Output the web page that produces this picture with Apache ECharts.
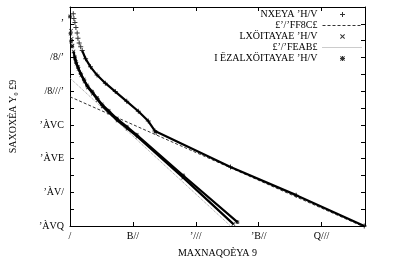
<!DOCTYPE html>
<html lang="en" style="height: 100%">
<head>
  <meta charset="utf-8">
</head>
<body style="height: 100%; margin: 0; background: #fff">
  <div id="container" style="width: 394px; height: 263px"></div>

  <script type="text/javascript" src="https://cdn.jsdelivr.net/npm/echarts@6/dist/echarts.min.js"></script>
  <script type="text/javascript">
// tick labels as printed in the picture
var xTickVals = [0, 500, 1000, 1500, 2000];
var xTickText = ['/', 'B//', 'ʼ///', 'ʼB//', 'Q///'];
var yTickVals = [0, -2, -4, -6, -8, -10, -12];
var yTickText = ['ʼ', '/8/ʼ', '/8///ʼ', 'ʼÀVC', 'ʼÀVE', 'ʼÀV/', 'ʼÀVQ'];

var legendNames = ['NXEYA ʼH/V', '£ʼ/ʼFF8C£', 'LXÖITAYAE ʼH/V', '£ʼ/ʼFEAB£', 'I ËZALXÖITAYAE ʼH/V'];
var xTitle = 'MAXNAQOÈYA 9';
var yTitle = 'SAXOXÈA Y₀ £9';

// series 1 (+)
var s1X = [26, 31, 39, 47, 57, 63, 73, 85, 97, 124, 163, 215, 281, 360, 451, 543, 622, 675, 685, 1276, 1798, 2339];
var s1Y = [4.0, 2.1, 1.2, 0.6, 0.29, 0.14, 0.074, 0.044, 0.026, 0.0085, 0.0028, 9.1e-4, 3.0e-4, 9.5e-5, 2.5e-5, 6.5e-6, 1.7e-6, 4.4e-7, 3.5e-7, 3.2e-9, 6.8e-11, 1.0e-12];
// series 2 (x)
var s2X = [8, 13, 20, 28, 40, 52, 68, 90, 116, 142, 182, 221, 260, 313, 378, 457, 536, 900, 1299];
var s2Y = [0.39, 0.13, 0.051, 0.023, 0.0089, 0.0043, 0.0021, 8.9e-4, 3.8e-4, 1.66e-4, 7.2e-5, 3.0e-5, 1.26e-5, 5.2e-6, 1.8e-6, 6.0e-7, 2.0e-7, 7.4e-10, 1.3e-12];
// series 3 (*)
var s3X = [0, 4, 9, 16, 37, 47, 63, 84, 110, 136, 176, 215, 254, 307, 372, 451, 530, 900, 1331];
var s3Y = [2.75, 0.26, 0.089, 0.045, 0.0107, 0.0054, 0.00275, 0.00115, 5.0e-4, 2.2e-4, 9.5e-5, 4.0e-5, 1.66e-5, 6.9e-6, 2.4e-6, 7.9e-7, 2.6e-7, 1.0e-9, 1.7e-12];
// fitted lines
var fit1X = [0, 2345];
var fit1Y = [4.7e-5, 8.3e-13];
var fit2X = [0, 1276];
var fit2Y = [6.0e-4, 1.0e-12];

function pts(xs, ys, from) {
  var out = [];
  for (var i = from || 0; i < xs.length; i++) out.push([xs[i], Math.log10(ys[i])]);
  return out;
}

var plusPath = 'path://M4,0H6V10H4Z M0,4H10V6H0Z';
var crossPath = 'path://M1.5,0.1L9.9,8.5L8.5,9.9L0.1,1.5Z M8.5,0.1L9.9,1.5L1.5,9.9L0.1,8.5Z';
var starPath = 'path://M4,0H6V10H4Z M0,4H10V6H0Z M1.5,0.1L9.9,8.5L8.5,9.9L0.1,1.5Z M8.5,0.1L9.9,1.5L1.5,9.9L0.1,8.5Z';

var font = 'Liberation Serif';
var myChart = echarts.init(document.getElementById('container'), null, { renderer: 'canvas' });

function axisBase(extra) {
  var a = {
    axisLine: { show: true, onZero: false, lineStyle: { color: '#000', width: 1 } },
    axisTick: { show: true, inside: true, length: 4, lineStyle: { color: '#000' } },
    splitLine: { show: false }
  };
  for (var k in extra) a[k] = extra[k];
  return a;
}

function lineOf(xs, ys, from) {
  return {
    type: 'line', data: pts(xs, ys, from), showSymbol: false, symbol: 'none',
    silent: true, lineStyle: { color: '#000', width: 2.2 }, z: 3
  };
}

var option = {
  animation: false,
  grid: { left: 68, right: 29, top: 7, bottom: 35 },
  legend: {
    orient: 'vertical', right: 31, top: 9, padding: 0, itemGap: 0, align: 'right',
    itemWidth: 40, itemHeight: 5,
    lineStyle: { width: 1 },
    textStyle: { fontFamily: font, fontSize: 10, lineHeight: 11, color: '#000' },
    data: legendNames
  },
  xAxis: [
    axisBase({
      type: 'value', min: 0, max: 2345, interval: 500, position: 'bottom',
      name: xTitle, nameLocation: 'middle', nameGap: 22,
      nameTextStyle: { fontFamily: font, fontSize: 10, color: '#000' },
      axisLabel: {
        margin: 5, fontFamily: font, fontSize: 10, color: '#000',
        formatter: function (v) { var i = xTickVals.indexOf(v); return i < 0 ? '' : xTickText[i]; }
      }
    }),
    axisBase({ type: 'value', min: 0, max: 2345, interval: 500, position: 'top', axisLabel: { show: false } })
  ],
  yAxis: [
    axisBase({
      type: 'value', min: -12, max: 1, interval: 1, position: 'left',
      name: yTitle, nameLocation: 'middle', nameGap: 52, nameRotate: 90,
      nameTextStyle: { fontFamily: font, fontSize: 10, color: '#000' },
      axisLabel: {
        margin: 6, fontFamily: font, fontSize: 10, color: '#000',
        formatter: function (v) { var i = yTickVals.indexOf(v); return i < 0 ? '' : yTickText[i]; }
      }
    }),
    axisBase({ type: 'value', min: -12, max: 1, interval: 1, position: 'right', axisLabel: { show: false } })
  ],
  series: [
    {
      name: legendNames[0], type: 'scatter', data: pts(s1X, s1Y), symbol: plusPath,
      symbolSize: 5, symbolKeepAspect: true, itemStyle: { color: '#000' }, z: 4
    },
    {
      name: legendNames[1], type: 'line', data: pts(fit1X, fit1Y), showSymbol: false, symbol: 'none',
      itemStyle: { color: 'rgba(0,0,0,0)', borderWidth: 0 },
      lineStyle: { color: '#333', width: 1, type: [3, 2] }, z: 2
    },
    {
      name: legendNames[2], type: 'scatter', data: pts(s2X, s2Y), symbol: crossPath,
      symbolSize: 4, symbolKeepAspect: true, itemStyle: { color: '#000' }, z: 4
    },
    {
      name: legendNames[3], type: 'line', data: pts(fit2X, fit2Y), showSymbol: false, symbol: 'none',
      itemStyle: { color: 'rgba(0,0,0,0)', borderWidth: 0 },
      lineStyle: { color: '#999', width: 1, type: [1, 1] }, z: 2
    },
    {
      name: legendNames[4], type: 'scatter', data: pts(s3X, s3Y), symbol: starPath,
      symbolSize: 4, symbolKeepAspect: true, itemStyle: { color: '#000' }, z: 4
    },
    lineOf(s1X, s1Y, 8),
    lineOf(s2X, s2Y, 3),
    lineOf(s3X, s3Y, 4)
  ]
};

myChart.setOption(option);
  </script>
</body>
</html>
